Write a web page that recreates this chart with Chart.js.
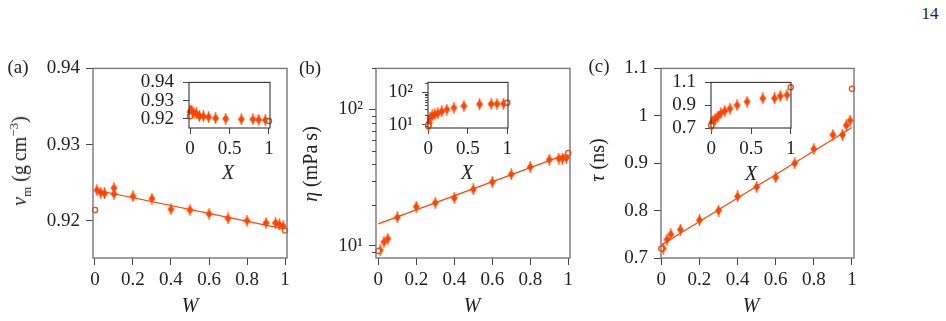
<!DOCTYPE html>
<html>
<head>
<meta charset="utf-8">
<script src="https://cdn.jsdelivr.net/npm/chart.js@4.4.1/dist/chart.umd.min.js"></script>
<style>
  html, body { margin: 0; padding: 0; background: #fff; }
  #fig { position: relative; width: 946px; height: 321px; overflow: hidden; font-family: 'Liberation Serif', serif; color: #222; }
  #fig canvas { position: absolute; }
  .lbl { position: absolute; font-size: 19px; white-space: nowrap; line-height: 1; transform: translate(-50%, -50%); }
  .ttl { font-size: 20px; }
  .rot { transform: translate(-50%, -50%) rotate(-90deg); }
  .lbl sub, .lbl sup { font-size: 13px; line-height: 0; }
</style>
</head>
<body>
<div id="fig">
  <span class="lbl" style="left:930px;top:13px;font-size:17px">14</span>
  <span class="lbl" style="left:18px;top:66px">(a)</span>
  <span class="lbl" style="left:310px;top:67px">(b)</span>
  <span class="lbl" style="left:599px;top:65px">(c)</span>
  <span class="lbl ttl rot" style="left:19px;top:161px"><i>v</i><sub>m</sub> (g&#8201;cm<sup>&minus;3</sup>)</span>
  <span class="lbl ttl rot" style="left:310px;top:164px"><i>η</i> (mPa&#8201;s)</span>
  <span class="lbl ttl rot" style="left:597px;top:160px"><i>τ</i> (ns)</span>
  <span class="lbl ttl" style="left:190px;top:305px"><i>W</i></span>
  <span class="lbl ttl" style="left:472px;top:305px"><i>W</i></span>
  <span class="lbl ttl" style="left:751px;top:305px"><i>W</i></span>
  <span class="lbl ttl" style="left:228px;top:172px"><i>X</i></span>
  <span class="lbl ttl" style="left:467px;top:172px"><i>X</i></span>
  <span class="lbl ttl" style="left:751px;top:173px"><i>X</i></span>
</div>
<script>
// --- DATA ---
const wFrac = [0, 0.01, 0.03, 0.05, 0.1, 0.2, 0.3, 0.4, 0.5, 0.6, 0.7, 0.8, 0.9, 0.95, 0.97, 0.99, 1];
const xFrac = [0, 0.002, 0.006, 0.011, 0.022, 0.049, 0.081, 0.120, 0.170, 0.235, 0.324, 0.451, 0.649, 0.796, 0.869, 0.953, 1];

const density = [0.9214, 0.9240, 0.9237, 0.9236, 0.9235, 0.9232, 0.9229, 0.9215, 0.9214, 0.9209, 0.9203, 0.9200, 0.9197, 0.9197, 0.9195, 0.9193, 0.9187];
// second density measurement at W = 0.1
const densityRepeatW = [0.1];
const densityRepeatX = [0.022];
const densityRepeat = [0.9243];

const viscosity = [9.2, 9.3, 10.7, 11.3, 16.2, 19.4, 20.7, 22.5, 26.0, 29.4, 33.5, 37.9, 42.9, 43.7, 43.7, 44.2, 48.0];
const lifetime = [0.720, 0.720, 0.739, 0.750, 0.760, 0.780, 0.800, 0.830, 0.850, 0.870, 0.900, 0.930, 0.960, 0.960, 0.980, 0.990, 1.057];

// straight-line fits (end points)
const densityFitW = [0.01, 1];
const densityFit = [0.9240, 0.9189];
const viscosityFitW = [0, 1];
const viscosityFit = [14.5, 47.5];
const lifetimeFitW = [0, 1];
const lifetimeFit = [0.7275, 0.9754];

// ticks
const wTicks = [0, 0.2, 0.4, 0.6, 0.8, 1];
const xTicks = [0, 0.5, 1];
const densityTicks = [0.92, 0.93, 0.94];
const viscosityTicks = [10, 100];
const viscosityTickLabels = ['10¹', '10²'];
const viscosityMinor = [9, 20, 30, 40, 50, 60, 70, 80, 90, 200];
const lifetimeTicks = [0.7, 0.8, 0.9, 1, 1.1];
const lifetimeInsetTicks = [0.7, 0.9, 1.1];

// --- STYLE ---
const RED = '#ff4500';
const FONT = "'Liberation Serif', serif";
const fig = document.getElementById('fig');

// filled diamond with a short vertical error bar
function diamondMarker() {
    const c = document.createElement('canvas');
    c.width = 9; c.height = 12;
    const g = c.getContext('2d');
    g.fillStyle = RED; g.strokeStyle = RED; g.lineWidth = 1.5;
    g.beginPath(); g.moveTo(4.5, 0.3); g.lineTo(4.5, 11.7); g.stroke();
    g.beginPath();
    g.moveTo(4.5, 1.4); g.lineTo(8.0, 6); g.lineTo(4.5, 10.6); g.lineTo(1.0, 6);
    g.closePath(); g.fill();
    return c;
}
const DIAMOND = diamondMarker();

const num = v => String(Math.round(v * 100) / 100);

// frame round the plot area, white fill for insets, minor ticks on log axes
const framePlugin = {
    id: 'frame',
    beforeDatasetsDraw(chart, args, opts) {
        if (!opts.fill) return;
        const a = chart.chartArea, ctx = chart.ctx;
        ctx.save();
        ctx.fillStyle = '#fff';
        ctx.fillRect(a.left, a.top, a.right - a.left, a.bottom - a.top);
        ctx.restore();
    },
    afterDraw(chart, args, opts) {
        const a = chart.chartArea, ctx = chart.ctx;
        ctx.save();
        ctx.strokeStyle = opts.color;
        ctx.lineWidth = opts.width;
        ctx.strokeRect(a.left, a.top, a.right - a.left, a.bottom - a.top);
        if (opts.minor) {
            const y = chart.scales.y;
            ctx.strokeStyle = '#444';
            ctx.lineWidth = 1;
            opts.minor.forEach(v => {
                const p = Math.round(y.getPixelForValue(v)) + 0.5;
                if (p < a.top || p > a.bottom) return;
                ctx.beginPath();
                ctx.moveTo(a.left - opts.minorLen, p);
                ctx.lineTo(a.left, p);
                ctx.stroke();
            });
        }
        ctx.restore();
    }
};

function axis(horizontal, range, ticks, fmt, sz, log) {
    return {
        type: log ? 'logarithmic' : 'linear',
        min: range[0], max: range[1],
        afterBuildTicks: s => { s.ticks = ticks.map(v => ({ value: v })); },
        afterFit: s => { if (horizontal) s.height = sz.size; else s.width = sz.size; },
        grid: { drawOnChartArea: false, tickLength: sz.tl, color: '#444', lineWidth: 1 },
        border: { display: false },
        ticks: {
            callback: fmt, autoSkip: false, maxRotation: 0, padding: sz.pad,
            color: '#222', font: { family: FONT, size: 19 }
        }
    };
}

function pts(xs, ys) { return xs.map((x, i) => ({ x, y: ys[i] })); }

function series(xs, ys, fitX, fitY, extraX, extraY) {
    const last = xs.length - 1;
    const sets = [
        { data: pts([xs[0], xs[last]], [ys[0], ys[last]]), pointStyle: 'circle', pointRadius: 2.6,
          pointBorderWidth: 1.3, pointBackgroundColor: '#fff', pointBorderColor: RED, clip: false },
        { data: pts(xs.slice(1, last), ys.slice(1, last)).concat(extraX ? pts(extraX, extraY) : []),
          pointStyle: DIAMOND, pointRadius: 4, clip: false }
    ];
    if (fitX) sets.push({ data: pts(fitX, fitY), showLine: true, pointRadius: 0, borderColor: RED, borderWidth: 1.2 });
    return sets;
}

function addChart(box, pad, datasets, xAx, yAx, frame) {
    const c = document.createElement('canvas');
    const w = box.r - box.l + pad.l + pad.r, h = box.b - box.t + pad.t + pad.b;
    c.width = w; c.height = h;
    c.style.left = (box.l - pad.l) + 'px';
    c.style.top = (box.t - pad.t) + 'px';
    c.style.width = w + 'px';
    c.style.height = h + 'px';
    fig.insertBefore(c, fig.firstChild);
    return new Chart(c, {
        type: 'scatter',
        data: { datasets },
        options: {
            responsive: false, animation: false, devicePixelRatio: 1, events: [],
            layout: { padding: { left: 0, top: pad.t, right: pad.r, bottom: 0 } },
            scales: { x: xAx, y: yAx },
            plugins: { legend: { display: false }, tooltip: { enabled: false }, frame }
        },
        plugins: [framePlugin]
    });
}

// --- PANELS ---
const mainPad = { l: 80, r: 12, t: 14, b: 45 };
const insetPad = { l: 55, r: 12, t: 14, b: 30 };
const mainX = { size: 45, tl: 7, pad: 4 };
const mainY = { size: 80, tl: 7, pad: 6 };
const insX = { size: 30, tl: 6, pad: 4 };
const insY = { size: 55, tl: 6, pad: 9 };
const mainFrame = { color: '#777', width: 1.4 };
const insFrame = { color: '#333', width: 1.1, fill: true };

// (a) density
addChart({ l: 93, t: 65, r: 287, b: 258 }, mainPad,
    series(wFrac, density, densityFitW, densityFit, densityRepeatW, densityRepeat),
    axis(true, [-0.0105, 1.0105], wTicks, num, mainX),
    axis(false, [0.9151, 0.9400], densityTicks, v => v.toFixed(2), mainY),
    mainFrame);
// (b) viscosity
addChart({ l: 376, t: 65, r: 570, b: 258 }, mainPad,
    series(wFrac, viscosity, viscosityFitW, viscosityFit),
    axis(true, [-0.012, 1.009], wTicks, num, mainX),
    axis(false, [8.16, 200], viscosityTicks, (v, i) => viscosityTickLabels[i], mainY, true),
    Object.assign({ minor: viscosityMinor, minorLen: 4 }, mainFrame));
// (c) lifetime
addChart({ l: 661, t: 65, r: 854, b: 258 }, mainPad,
    series(wFrac, lifetime, lifetimeFitW, lifetimeFit),
    axis(true, [-0.0016, 1.0105], wTicks, num, mainX),
    axis(false, [0.7, 1.1], lifetimeTicks, num, mainY),
    mainFrame);

// insets against X
addChart({ l: 189, t: 76, r: 270, b: 128 }, insetPad,
    series(xFrac, density, null, null, densityRepeatX, densityRepeat),
    axis(true, [-0.0127, 1.0127], xTicks, num, insX),
    axis(false, [0.9149, 0.9400], densityTicks, v => v.toFixed(2), insY),
    insFrame);
addChart({ l: 428, t: 76, r: 508, b: 128 }, insetPad,
    series(xFrac, viscosity),
    axis(true, [-0.004, 1.009], xTicks, num, insX),
    axis(false, [7.94, 202], viscosityTicks, (v, i) => viscosityTickLabels[i], insY, true),
    Object.assign({ minor: viscosityMinor, minorLen: 3 }, insFrame));
addChart({ l: 711, t: 76, r: 791, b: 128 }, insetPad,
    series(xFrac, lifetime),
    axis(true, [-0.004, 1.004], xTicks, num, insX),
    axis(false, [0.7, 1.1], lifetimeInsetTicks, num, insY),
    insFrame);
</script>
</body>
</html>
